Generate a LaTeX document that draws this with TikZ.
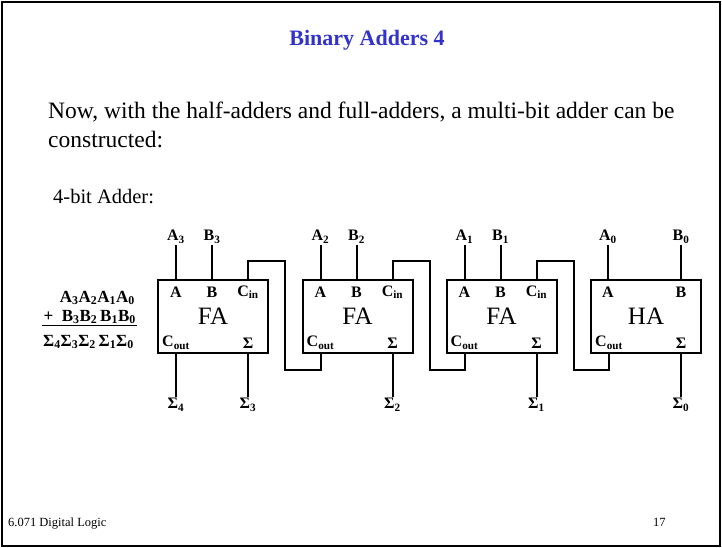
\documentclass[tikz,border=0pt]{standalone}
\usepackage{fontspec}
\setmainfont{Liberation Serif}
\usepackage{tikz}
\usetikzlibrary{positioning,calc}
\definecolor{titleblue}{RGB}{51,51,204}

\begin{document}
\begin{tikzpicture}[x=1pt, y=-1pt,
    adder/.style={rectangle, draw, line width=2pt, minimum width=110pt, minimum height=73pt, inner sep=0pt, font=\fontsize{25}{25}\selectfont},
    pin/.style={inner sep=1pt, font=\bfseries\fontsize{16}{16}\selectfont},
    wire/.style={line width=2pt},
    body/.style={anchor=base west, inner sep=0pt, font=\fontsize{23.5}{28}\selectfont},
    footer/.style={anchor=base west, inner sep=0pt, font=\fontsize{12.5}{14}\selectfont}
]
    \useasboundingbox (0,0) rectangle (722,548);
    \draw[line width=2pt] (2,2) rectangle (720,546);

    % Slide text
    \node[font=\bfseries\fontsize{22}{26}\selectfont, text=titleblue] (title) at (367,40) {Binary Adders 4};
    \node[body] (line1) at (48,119) {Now, with the half-adders and full-adders, a multi-bit adder can be};
    \node[body] (line2) at (48,148) {constructed:};
    \node[body, font=\fontsize{20.5}{24}\selectfont] (sub) at (53,204) {4-bit Adder:};
    \node[footer] (course) at (8,526) {6.071 Digital Logic};
    \node[footer] (pageno) at (653,526) {17};

    % Sum written out
    \node[pin, anchor=east, font=\bfseries\fontsize{17}{17}\selectfont] (eqa) at (136,298) {A\textsubscript{3}A\textsubscript{2}A\textsubscript{1}A\textsubscript{0}};
    \node[pin, anchor=east, font=\bfseries\fontsize{17}{17}\selectfont] (eqb) at (137,317) {+\ \ B\textsubscript{3}B\textsubscript{2}\,B\textsubscript{1}B\textsubscript{0}};
    \node[pin, anchor=east, font=\bfseries\fontsize{17}{17}\selectfont] (eqs) at (135,342) {Σ\textsubscript{4}Σ\textsubscript{3}Σ\textsubscript{2}\,Σ\textsubscript{1}Σ\textsubscript{0}};
    \draw[line width=1.2pt] (eqb.south west) -- (eqb.south east);

    % Adder blocks
    \node[adder] (fa3) at (213,316.5) {FA};
    \node[adder] (fa2) at (357.5,316.5) {FA};
    \node[adder] (fa1) at (501.5,316.5) {FA};
    \node[adder] (ha0) at (646,316.5) {HA};

    % Labels inside the blocks
    \node[pin] (fa3a) at ($(fa3.north west)+(19,13)$) {A};
    \node[pin] (fa3b) at ($(fa3.north west)+(55,13)$) {B};
    \node[pin] (fa3cin) at ($(fa3.north west)+(91,13)$) {C\textsubscript{in}};
    \node[pin] (fa3cout) at ($(fa3.north west)+(19,64)$) {C\textsubscript{out}};
    \node[pin] (fa3s) at ($(fa3.north west)+(91,64)$) {Σ};

    \node[pin] (fa2a) at ($(fa2.north west)+(19,13)$) {A};
    \node[pin] (fa2b) at ($(fa2.north west)+(55,13)$) {B};
    \node[pin] (fa2cin) at ($(fa2.north west)+(91,13)$) {C\textsubscript{in}};
    \node[pin] (fa2cout) at ($(fa2.north west)+(19,64)$) {C\textsubscript{out}};
    \node[pin] (fa2s) at ($(fa2.north west)+(91,64)$) {Σ};

    \node[pin] (fa1a) at ($(fa1.north west)+(19,13)$) {A};
    \node[pin] (fa1b) at ($(fa1.north west)+(55,13)$) {B};
    \node[pin] (fa1cin) at ($(fa1.north west)+(91,13)$) {C\textsubscript{in}};
    \node[pin] (fa1cout) at ($(fa1.north west)+(19,64)$) {C\textsubscript{out}};
    \node[pin] (fa1s) at ($(fa1.north west)+(91,64)$) {Σ};

    \node[pin] (ha0a) at ($(ha0.north west)+(18,13)$) {A};
    \node[pin] (ha0b) at ($(ha0.north west)+(91,13)$) {B};
    \node[pin] (ha0cout) at ($(ha0.north west)+(19,64)$) {C\textsubscript{out}};
    \node[pin] (ha0s) at ($(ha0.north west)+(91,64)$) {Σ};

    % Inputs and outputs
    \node[pin] (a3) at (fa3a |- 0,237) {A\textsubscript{3}};
    \node[pin] (b3) at (fa3b |- 0,237) {B\textsubscript{3}};
    \node[pin] (a2) at (fa2a |- 0,237) {A\textsubscript{2}};
    \node[pin] (b2) at (fa2b |- 0,237) {B\textsubscript{2}};
    \node[pin] (a1) at (fa1a |- 0,237) {A\textsubscript{1}};
    \node[pin] (b1) at (fa1b |- 0,237) {B\textsubscript{1}};
    \node[pin] (a0) at (ha0a |- 0,237) {A\textsubscript{0}};
    \node[pin] (b0) at (ha0b |- 0,237) {B\textsubscript{0}};

    \node[pin] (s4) at (fa3cout |- 0,405) {Σ\textsubscript{4}};
    \node[pin] (s3) at (fa3s |- 0,405) {Σ\textsubscript{3}};
    \node[pin] (s2) at (fa2s |- 0,405) {Σ\textsubscript{2}};
    \node[pin] (s1) at (fa1s |- 0,405) {Σ\textsubscript{1}};
    \node[pin] (s0) at (ha0s |- 0,405) {Σ\textsubscript{0}};

    \draw[wire] (a3) -- (a3 |- fa3.north);
    \draw[wire] (b3) -- (b3 |- fa3.north);
    \draw[wire] (a2) -- (a2 |- fa2.north);
    \draw[wire] (b2) -- (b2 |- fa2.north);
    \draw[wire] (a1) -- (a1 |- fa1.north);
    \draw[wire] (b1) -- (b1 |- fa1.north);
    \draw[wire] (a0) -- (a0 |- ha0.north);
    \draw[wire] (b0) -- (b0 |- ha0.north);

    \draw[wire] (s4) -- (s4 |- fa3.south);
    \draw[wire] (s3) -- (s3 |- fa3.south);
    \draw[wire] (s2) -- (s2 |- fa2.south);
    \draw[wire] (s1) -- (s1 |- fa1.south);
    \draw[wire] (s0) -- (s0 |- ha0.south);

    % Carry chain
    \draw[wire] (fa3cin |- fa3.north) -- ++(0,-18) -- ++(37,0) -- ++(0,109) -| (fa2cout |- fa2.south);
    \draw[wire] (fa2cin |- fa2.north) -- ++(0,-18) -- ++(37,0) -- ++(0,109) -| (fa1cout |- fa1.south);
    \draw[wire] (fa1cin |- fa1.north) -- ++(0,-18) -- ++(37,0) -- ++(0,109) -| (ha0cout |- ha0.south);
\end{tikzpicture}
\end{document}
